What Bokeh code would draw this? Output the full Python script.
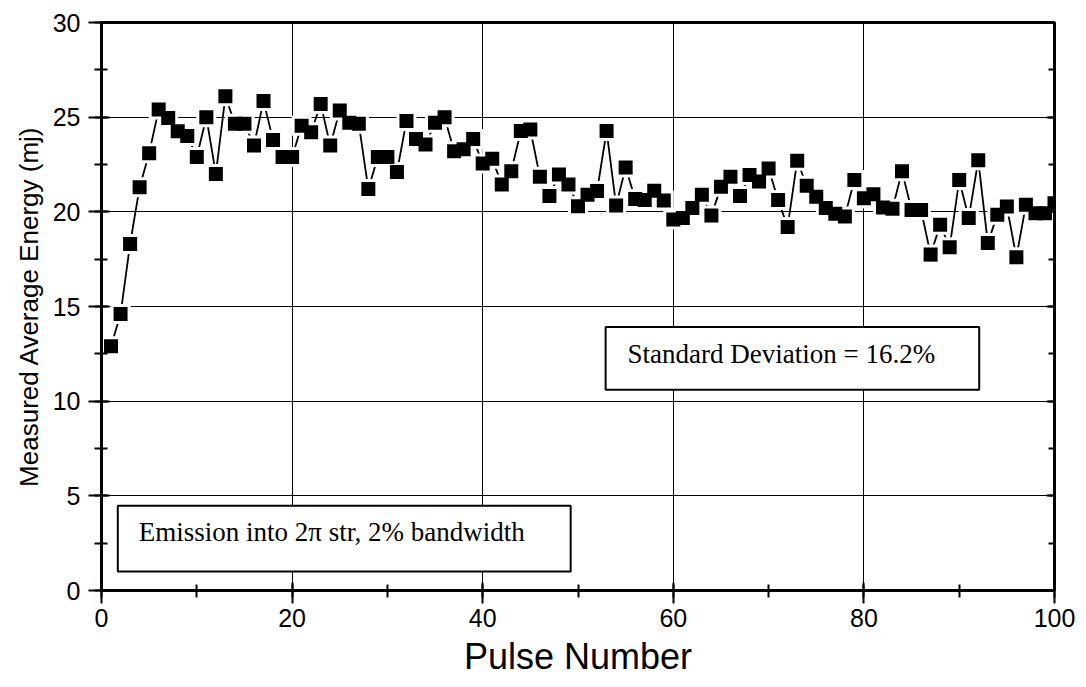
from bokeh.plotting import figure
from bokeh.models import (SingleIntervalTicker, LinearAxis, Label, BoxAnnotation,
                          CustomJSTickFormatter, Range1d)
from bokeh.embed import file_html
from bokeh.resources import INLINE

pulse = list(range(1, 101))
energy = [12.9, 14.6, 18.3, 21.3, 23.1, 25.4, 24.95, 24.25, 24.0, 22.9,
          25.0, 22.0, 26.1, 24.65, 24.65, 23.5, 25.85, 23.8, 22.9, 22.9,
          24.55, 24.2, 25.7, 23.5, 25.35, 24.7, 24.65, 21.2, 22.9, 22.9,
          22.1, 24.8, 23.85, 23.55, 24.7, 25.0, 23.2, 23.3, 23.85, 22.55,
          22.8, 21.45, 22.15, 24.27, 24.35, 21.85, 20.84, 21.97, 21.45, 20.3,
          20.9, 21.1, 24.27, 20.33, 22.34, 20.68, 20.63, 21.12, 20.6, 19.6,
          19.67, 20.2, 20.9, 19.8, 21.33, 21.85, 20.84, 21.94, 21.6, 22.29,
          20.63, 19.2, 22.7, 21.38, 20.8, 20.2, 19.9, 19.76, 21.68, 20.72,
          20.93, 20.23, 20.16, 22.15, 20.1, 20.1, 17.74, 19.32, 18.13, 21.68,
          19.67, 22.73, 18.36, 19.84, 20.28, 17.6, 20.37, 19.93, 19.93, 20.45]

x_label = "Pulse Number"
y_label = "Measured Average Energy (mj)"
note_sd = "Standard Deviation = 16.2%"
note_em = "Emission into 2\u03c0 str, 2% bandwidth"

SANS = "Liberation Sans"
SERIF = "Liberation Serif"

p = figure(width=1086, height=687, x_range=Range1d(0, 100), y_range=Range1d(0, 30),
           output_backend="svg", toolbar_location=None,
           min_border_left=101, min_border_right=32, min_border_top=22, min_border_bottom=97)
p.background_fill_color = "white"
p.border_fill_color = "white"
p.outline_line_color = "black"
p.outline_line_width = 3

p.xaxis.ticker = SingleIntervalTicker(interval=20, num_minor_ticks=2)
p.yaxis.ticker = SingleIntervalTicker(interval=5, num_minor_ticks=2)

for ax in (p.xaxis[0], p.yaxis[0]):
    ax.axis_line_width = 3
    ax.axis_line_color = "black"
    ax.major_tick_line_color = "black"
    ax.major_tick_line_width = 2
    ax.minor_tick_line_color = "black"
    ax.minor_tick_line_width = 2
    ax.major_tick_out = 13
    ax.major_tick_in = 8
    ax.minor_tick_out = 7
    ax.minor_tick_in = 6
    ax.major_label_text_font = SANS
    ax.major_label_text_font_size = "25px"
    ax.major_label_text_color = "black"

p.xaxis.major_label_standoff = 5
p.yaxis.major_label_standoff = 8

p.xaxis.axis_label = x_label
p.xaxis.axis_label_text_font = SANS
p.xaxis.axis_label_text_font_size = "36px"
p.xaxis.axis_label_text_font_style = "normal"
p.xaxis.axis_label_text_color = "black"
p.xaxis.axis_label_standoff = 6

p.yaxis.axis_label = y_label
p.yaxis.axis_label_text_font = SANS
p.yaxis.axis_label_text_font_size = "26px"
p.yaxis.axis_label_text_font_style = "normal"
p.yaxis.axis_label_text_color = "black"
p.yaxis.axis_label_standoff = 6

right = LinearAxis(ticker=SingleIntervalTicker(interval=5, num_minor_ticks=2),
                   formatter=CustomJSTickFormatter(code="return ''"),
                   major_tick_in=8, major_tick_out=0, minor_tick_in=6, minor_tick_out=0,
                   axis_line_width=3, axis_line_color="black",
                   major_tick_line_width=2, minor_tick_line_width=2,
                   major_tick_line_color="black", minor_tick_line_color="black",
                   major_label_standoff=0, major_label_text_font_size="1px")
p.add_layout(right, "right")

p.xgrid.grid_line_color = "black"
p.ygrid.grid_line_color = "black"
p.xgrid.grid_line_width = 1
p.ygrid.grid_line_width = 1
p.xgrid.grid_line_alpha = 1
p.ygrid.grid_line_alpha = 1

p.line(pulse, energy, line_color="black", line_width=1.8)
p.scatter(pulse, energy, marker="square", size=20, fill_color="white", line_color=None)
p.scatter(pulse, energy, marker="square", size=14, fill_color="black", line_color=None)

box_em = BoxAnnotation(left=1.71, right=49.23, bottom=1.0, top=4.48,
                       fill_color="white", fill_alpha=1, line_color="black",
                       line_width=2, line_alpha=1)
p.add_layout(box_em)
p.add_layout(Label(x=3.91, y=3.07, text=note_em, text_baseline="middle",
                   text_align="left", text_font=SERIF, text_font_size="27px",
                   text_color="black"))

box_sd = BoxAnnotation(left=52.9, right=92.1, bottom=10.6, top=13.92,
                       fill_color="white", fill_alpha=1, line_color="black",
                       line_width=2, line_alpha=1)
p.add_layout(box_sd)
p.add_layout(Label(x=55.2, y=12.48, text=note_sd, text_baseline="middle",
                   text_align="left", text_font=SERIF, text_font_size="27px",
                   text_color="black"))

open("out.html", "w").write(file_html(p, INLINE))
